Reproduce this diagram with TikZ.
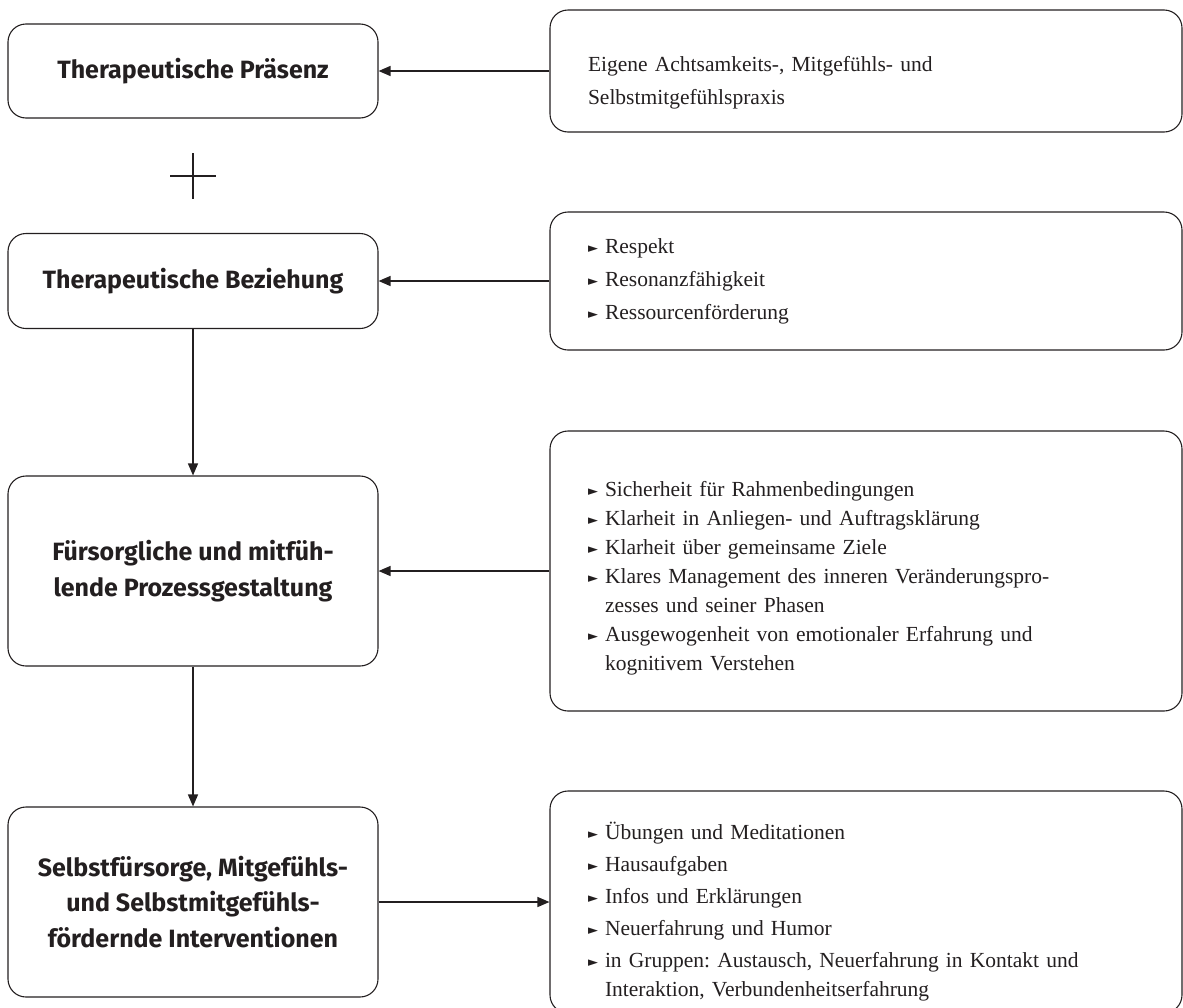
\documentclass[tikz,border=0pt]{standalone}
\usepackage{fontspec}
\setmainfont{Liberation Serif}
\newfontfamily\headfont{Fira Sans}
\newfontfamily\symfont{DejaVu Sans}
\usetikzlibrary{arrows.meta,positioning}
\definecolor{ink}{RGB}{35,31,32}
\newcommand{\itm}{\makebox[17pt][l]{\raisebox{1pt}{\symfont\fontsize{13}{13}\selectfont ►}}}
\newcommand{\cont}{\hspace*{17pt}}
\frenchspacing

\begin{document}
\begin{tikzpicture}[x=1pt,y=-1pt,
box/.style={draw=ink,text=ink,rounded corners=18pt,line width=1.1pt,align=center,minimum width=370pt,inner sep=0pt,font=\headfont\bfseries\fontsize{25}{35.5}\selectfont},
info/.style={draw=ink,text=ink,rounded corners=18pt,line width=1.1pt,align=left,text width=556pt,inner xsep=38pt,inner ysep=0pt,font=\fontsize{21.5}{29}\selectfont},
flow/.style={draw=ink,line width=1.3pt,-{Triangle[length=12pt,width=10pt]}}]
\useasboundingbox (0,0) rectangle (1183,1007);
% left column
\node[box,minimum height=94pt] (praesenz) at (193,71) {Therapeutische Präsenz};
\node[box,minimum height=95pt] (beziehung) at (193,281) {Therapeutische Beziehung};
\node[box,minimum height=190pt] (prozess) at (193,571) {Fürsorgliche und mitfüh-\\lende Prozessgestaltung};
\node[box,minimum height=190pt] (interv) at (193,902) {Selbstfürsorge, Mitgefühls-\\und Selbstmitgefühls-\\fördernde Interventionen};
% right column
\node[info,minimum height=122pt] (praxis) at (866,71) {\rule{0pt}{38pt}Eigene Achtsamkeits-, Mitgefühls- und\\[4pt]Selbstmitgefühlspraxis};
\node[info,minimum height=138pt] (haltung) at (866,281) {\itm Respekt\\[4pt]\itm Resonanzfähigkeit\\[4pt]\itm Ressourcenförderung};
\node[info,minimum height=280pt] (rahmen) at (866,571) {\rule{0pt}{30pt}\itm Sicherheit für Rahmenbedingungen\\
\itm Klarheit in Anliegen- und Auftragsklärung\\
\itm Klarheit über gemeinsame Ziele\\
\itm Klares Management des inneren Veränderungspro-\\
\cont zesses und seiner Phasen\\
\itm Ausgewogenheit von emotionaler Erfahrung und\\
\cont kognitivem Verstehen};
\node[info,minimum height=222pt] (methoden) at (866,902) {\rule{0pt}{36pt}\itm Übungen und Meditationen\\[3pt]
\itm Hausaufgaben\\[3pt]
\itm Infos und Erklärungen\\[3pt]
\itm Neuerfahrung und Humor\\[3pt]
\itm in Gruppen: Austausch, Neuerfahrung in Kontakt und\\
\cont Interaktion, Verbundenheitserfahrung};
% plus sign
\coordinate (plus) at (193,176);
\draw[ink,line width=1.3pt] (plus) ++(0,-23) -- ++(0,46) (plus) ++(-23,0) -- ++(46,0);
% connectors
\draw[flow] (praxis.west) -- (praesenz.east);
\draw[flow] (haltung.west) -- (beziehung.east);
\draw[flow] (rahmen.west) -- (prozess.east);
\draw[flow] (interv.east) -- (methoden.west);
\draw[flow] (beziehung.south) -- (prozess.north);
\draw[flow] (prozess.south) -- (interv.north);
\end{tikzpicture}
\end{document}
